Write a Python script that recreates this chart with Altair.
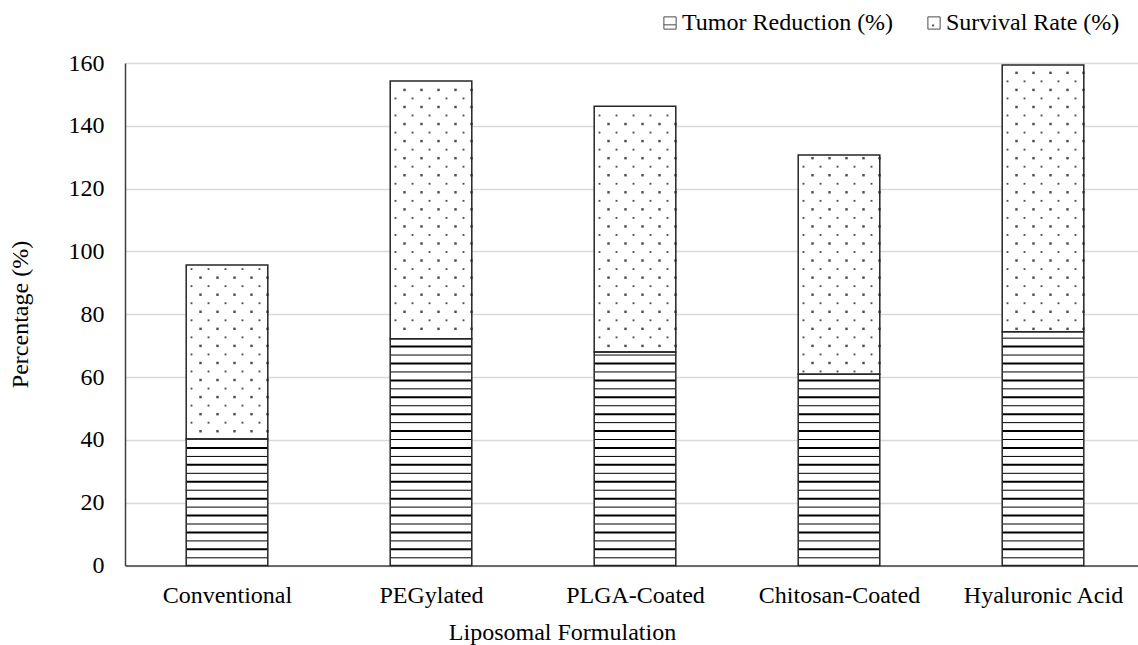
import altair as alt
import pandas as pd

# ---- chart values -------------------------------------------------------
categories = ["Conventional", "PEGylated", "PLGA-Coated", "Chitosan-Coated", "Hyaluronic Acid"]
tumor_reduction = [40.3, 72.2, 68.0, 60.9, 74.4]
survival_rate = [55.4, 82.1, 78.2, 69.8, 85.0]
series_names = ["Tumor Reduction (%)", "Survival Rate (%)"]
y_ticks = [0, 20, 40, 60, 80, 100, 120, 140, 160]

FONT = "Liberation Serif"
FS = 24
SLOT_PX = 204          # pixel width of one category slot on the x scale
HALF_BAR = 0.2         # half bar width, in category units

# one row per formulation
base = pd.DataFrame({
    "category": categories,
    "idx": list(range(len(categories))),
    "tumor": tumor_reduction,
    "survival": survival_rate,
})
base["total"] = base["tumor"] + base["survival"]

# stacked segments (long form)
rows = []
for i, (c, t, s) in enumerate(zip(categories, tumor_reduction, survival_rate)):
    rows.append({"category": c, "idx": i, "series": series_names[0], "lo": 0.0, "hi": t})
    rows.append({"category": c, "idx": i, "series": series_names[1], "lo": t, "hi": t + s})
segments = pd.DataFrame(rows)

x_scale = alt.Scale(domain=[-0.5, -0.5 + 1013 / SLOT_PX], nice=False, zero=False)
y_scale = alt.Scale(domain=[0, 160], nice=False)

label_array = "[" + ",".join("'" + c + "'" for c in categories) + "]"

x_axis = alt.Axis(
    values=list(range(len(categories))),
    labelExpr=label_array + "[round(datum.value)]",
    grid=False, ticks=False,
    domainColor="#404040", domainWidth=1.5,
    labelFont=FONT, labelFontSize=FS, labelColor="black", labelPadding=18,
    title="Liposomal Formulation", titleFont=FONT, titleFontSize=FS,
    titleFontWeight="normal", titleColor="black",
    titleX=437, titleY=67, titleAlign="center", titleBaseline="middle",
)
y_axis = alt.Axis(
    values=y_ticks, grid=True, gridColor="#d9d9d9", gridWidth=1.5,
    ticks=False, domainColor="#404040", domainWidth=1.5,
    labelFont=FONT, labelFontSize=FS, labelColor="black", labelPadding=21,
    title="Percentage (%)", titleFont=FONT, titleFontSize=FS,
    titleFontWeight="normal", titleColor="black",
    titleAngle=270, titleX=-105, titleY=251, titleAlign="center", titleBaseline="middle",
)

bar_edges = dict(
    x0=f"datum.idx - {HALF_BAR}",
    x1=f"datum.idx + {HALF_BAR}",
)

# white bar bodies
bodies = alt.Chart(segments).transform_calculate(**bar_edges).mark_rect(
    fill="white", strokeWidth=0
).encode(
    x=alt.X("x0:Q", scale=x_scale, axis=x_axis),
    x2="x1:Q",
    y=alt.Y("lo:Q", scale=y_scale, axis=y_axis),
    y2="hi:Q",
)

# horizontal hatching of the tumor-reduction segment
LINE_START, LINE_STEP = 2.45, 2.69
stripes = alt.Chart(base).transform_calculate(
    ly=f"sequence({LINE_START}, datum.tumor - 0.5, {LINE_STEP})"
).transform_flatten(["ly"]).transform_calculate(
    k=f"round((datum.ly - {LINE_START}) / {LINE_STEP})",
    **bar_edges,
).transform_calculate(
    w="datum.k % 2 == 0 ? 1 : 2"
).mark_rule(color="black").encode(
    x=alt.X("x0:Q", scale=x_scale, axis=x_axis),
    x2="x1:Q",
    y=alt.Y("ly:Q", scale=y_scale, axis=y_axis),
    strokeWidth=alt.StrokeWidth("w:Q", scale=None),
)

# staggered dot texture of the survival-rate segment
DOT_START, DOT_STEP = 2.0, 2.717
big_cols = [-26.5, -9.5, 7.5, 24.5, 40.5]
small_cols = [-35.5, -18.5, -1.5, 15.5, 32.5]
big_arr = "[" + ",".join(str(v / SLOT_PX) for v in big_cols) + "]"
small_arr = "[" + ",".join(str(v / SLOT_PX) for v in small_cols) + "]"
dots = alt.Chart(base).transform_calculate(
    j="sequence(0, 64)"
).transform_flatten(["j"]).transform_calculate(
    dy=f"{DOT_START} + {DOT_STEP} * datum.j"
).transform_filter(
    "datum.dy > datum.tumor + 0.6 && datum.dy < datum.total - 0.6"
).transform_calculate(
    big="datum.j % 2",
    offs=f"datum.j % 2 == 1 ? {big_arr} : {small_arr}",
).transform_flatten(["offs"]).transform_calculate(
    dx="datum.idx + datum.offs",
    sz="datum.big == 1 ? 6 : 3.5",
).mark_square(filled=True, color="black", strokeWidth=0).encode(
    x=alt.X("dx:Q", scale=x_scale, axis=x_axis),
    y=alt.Y("dy:Q", scale=y_scale, axis=y_axis),
    size=alt.Size("sz:Q", scale=None),
)

# bar outlines on top
outlines = alt.Chart(segments).transform_calculate(**bar_edges).mark_rect(
    fillOpacity=0, stroke="#262626", strokeWidth=1.5
).encode(
    x=alt.X("x0:Q", scale=x_scale, axis=x_axis),
    x2="x1:Q",
    y=alt.Y("lo:Q", scale=y_scale, axis=y_axis),
    y2="hi:Q",
)

# legend keys: a square with a rule for stripes, a square with a dot for dots
stripe_key = "M-1,-1H1V1H-1Z M-1,0.3H1"
dot_key = "M-1,-1H1V1H-1Z M-0.25,0.3H-0.05V0.5H-0.25Z"
legend_layer = alt.Chart(segments).transform_filter("false").mark_point(
    filled=False, stroke="black"
).encode(
    x=alt.X("idx:Q", scale=x_scale, axis=x_axis),
    y=alt.Y("hi:Q", scale=y_scale, axis=y_axis),
    shape=alt.Shape(
        "series:N",
        scale=alt.Scale(domain=series_names, range=[stripe_key, dot_key]),
        legend=alt.Legend(
            title=None, orient="none", legendX=533, legendY=-52,
            direction="horizontal", padding=0,
            symbolSize=150, symbolStrokeColor="black", symbolStrokeWidth=1,
            labelFont=FONT, labelFontSize=FS, labelColor="black",
            labelOffset=0, columnPadding=28, labelLimit=0,
        ),
    ),
)

chart = alt.layer(bodies, stripes, dots, outlines, legend_layer).properties(
    width=1013,
    height=502.5,
    background="white",
    autosize=alt.AutoSizeParams(type="none"),
    padding={"left": 125, "top": 63, "right": 0, "bottom": 79.5},
).configure_view(strokeWidth=0)

chart.save("out.html", embed_options={"renderer": "svg", "actions": False})
